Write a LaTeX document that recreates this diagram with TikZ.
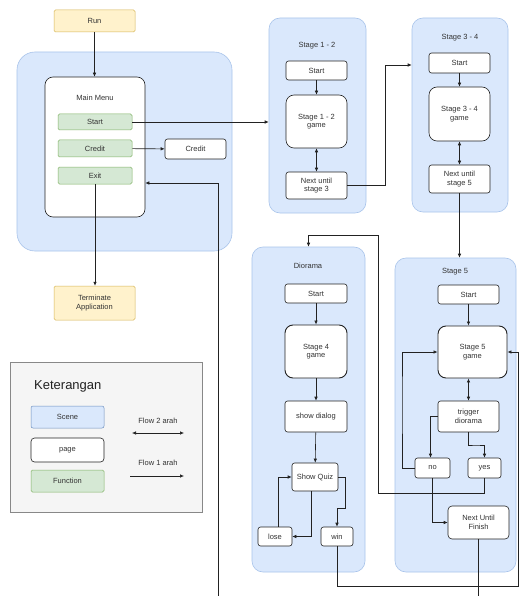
\documentclass[tikz,border=0pt]{standalone}
\usepackage{fontspec}
\setmainfont{Liberation Sans}
\usetikzlibrary{arrows.meta}
\definecolor{scenefill}{HTML}{DAE8FC}
\definecolor{sceneline}{HTML}{A9C4EB}
\definecolor{legline}{HTML}{6C8EBF}
\definecolor{funfill}{HTML}{D5E8D4}
\definecolor{funline}{HTML}{82B366}
\definecolor{yelfill}{HTML}{FFF2CC}
\definecolor{yelline}{HTML}{D6B656}
\definecolor{ink}{HTML}{222222}
\definecolor{txt}{HTML}{333333}
\definecolor{legfill}{HTML}{F5F5F5}
\definecolor{legdraw}{HTML}{888888}
\newcommand\mybox[7]{\node[#1, minimum width={(#5)-(#3)}, minimum height={(#6)-(#4)}] (#2) at ({((#3)+(#5))/2},{((#4)+(#6))/2}) {#7};}
\begin{document}
\begin{tikzpicture}[x=1pt,y=-1pt,
 font=\fontsize{7.5}{8.5}\selectfont,
 base/.style={inner sep=0pt, align=center, text=txt},
 scene/.style={base, fill=scenefill, draw=sceneline, rounded corners=11pt, line width=0.6pt},
 page/.style={base, fill=white, draw=ink, rounded corners=2.5pt, line width=0.6pt},
 gamebox/.style={page, rounded corners=8pt},
 fun/.style={base, fill=funfill, draw=funline, rounded corners=1.5pt, line width=0.5pt},
 yel/.style={base, fill=yelfill, draw=yelline, rounded corners=1.5pt, line width=0.5pt},
 arr/.style={draw=ink, line width=0.6pt, -{Latex[length=4pt,width=3.5pt]}},
 darr/.style={draw=ink, line width=0.6pt, {Latex[length=4pt,width=3.5pt]}-{Latex[length=4pt,width=3.5pt]}},
 lbl/.style={base}
]
\useasboundingbox[fill=white] (0,0) rectangle (519,596);

% scenes
\mybox{scene, rounded corners=18pt}{mmscene}{17}{52}{232}{251}{}
\mybox{scene}{s12}{269}{18}{366}{213}{}
\mybox{scene}{s34}{412}{18}{508}{212}{}
\mybox{scene}{dio}{252}{247}{365}{572}{}
\mybox{scene}{s5}{395}{258}{516}{572}{}

% main menu
\mybox{yel}{run}{54}{10}{135}{32}{Run}
\mybox{page, rounded corners=8pt}{mm}{45}{77}{145}{217}{}
\node[lbl] (mmlabel) at (95,98) {Main Menu};
\mybox{fun}{mstart}{58}{114}{132}{130}{Start}
\mybox{fun}{mcredit}{58}{140}{132}{157}{Credit}
\mybox{fun}{mexit}{58}{167}{132}{184}{Exit}
\mybox{page}{credit}{165}{139}{226}{159}{Credit}
\mybox{yel}{termapp}{54}{286}{135}{320}{Terminate\\Application}

% stage 1-2
\node[lbl] (s12label) at (317,46) {Stage 1 - 2};
\mybox{page}{s12start}{286}{61}{347}{80}{Start}
\mybox{gamebox}{s12game}{286}{95}{347}{148}{Stage 1 - 2\\game}
\mybox{page}{s12next}{286}{172}{347}{199}{Next until\\stage 3}

% stage 3-4
\node[lbl] (s34label) at (460,38) {Stage 3 - 4};
\mybox{page}{s34start}{429}{53}{490}{73}{Start}
\mybox{gamebox}{s34game}{429}{87}{490}{141}{Stage 3 - 4\\game}
\mybox{page}{s34next}{429}{165}{490}{193}{Next until\\stage 5}

% diorama
\node[lbl] (diolabel) at (308,266) {Diorama};
\mybox{page}{dstart}{285}{284}{347}{303}{Start}
\mybox{gamebox, line width=0.9pt}{dgame}{285}{325}{347}{378}{Stage 4\\game}
\mybox{page}{ddialog}{285}{401}{347}{432}{show dialog}
\mybox{page}{dquiz}{292}{463}{338}{491}{Show Quiz}
\mybox{page}{dlose}{258}{527}{292}{546}{lose}
\mybox{page}{dwin}{321}{527}{353}{546}{win}

% stage 5
\node[lbl] (s5label) at (455,272) {Stage 5};
\mybox{page}{s5start}{438}{285}{499}{304}{Start}
\mybox{gamebox, line width=0.9pt}{s5game}{438}{326}{507}{378}{Stage 5\\game}
\mybox{page}{trig}{438}{401}{499}{432}{trigger\\diorama}
\mybox{page}{no}{415}{458}{450}{478}{no}
\mybox{page}{yes}{468}{458}{501}{478}{yes}
\mybox{page, rounded corners=4pt}{nuf}{448}{506}{509}{539}{Next Until\\Finish}

% legend
\mybox{base, fill=legfill, draw=legdraw, line width=0.6pt}{legend}{10}{362}{202}{512}{}
\node[lbl, anchor=west, font=\fontsize{13}{15}\selectfont, text=ink] (legtitle) at (34,386) {Keterangan};
\mybox{base, fill=scenefill, draw=legline, rounded corners=2pt, line width=0.5pt}{lscene}{31}{406}{104}{428}{Scene}
\mybox{page, rounded corners=3.5pt}{lpage}{31}{438}{104}{462}{page}
\mybox{fun}{lfun}{31}{470}{104}{492}{Function}
\node[lbl] (flow2) at (158,421) {Flow 2 arah};
\node[lbl] (flow1) at (158,463) {Flow 1 arah};
\coordinate (f2a) at (132,433);
\coordinate (f2b) at (184,433);
\coordinate (f1a) at (130,476);
\coordinate (f1b) at (184,476);
\draw[darr] (f2a) -- (f2b);
\draw[arr] (f1a) -- (f1b);

% connectors main menu
\draw[arr] (run.south) -- (run.south |- mm.north);
\draw[arr] (mstart.east) -- (mstart.east -| s12.west);
\draw[arr] (mcredit) -- (credit);
\draw[arr] (mexit.south) -- (mexit.south |- termapp.north);

% stage 1-2 / 3-4
\draw[arr] (s12start) -- (s12game);
\draw[darr] (s12game) -- (s12next);
\coordinate (k1) at (385,65);
\draw[arr] (s12next.east) -| (k1) -- (k1 -| s34.west);
\draw[arr] (s34start) -- (s34game);
\draw[darr] (s34game) -- (s34next);
\draw[arr] (s34next.south) -- (s34next.south |- s5.north);

% diorama
\draw[arr] (dstart) -- (dgame);
\draw[arr] (dgame) -- (ddialog);
\draw[arr] (ddialog) -- (dquiz);
\draw[arr] ([xshift=-4pt]dquiz.south) |- (dlose.east);
\coordinate (k2) at (278,480);
\draw[arr] (k2 |- dlose.north) |- (dquiz.west);
\coordinate (k3) at (345,508);
\draw[arr] (dquiz.east) -| (k3) -| (dwin.north);
\coordinate (k4) at (518,586);
\draw[arr] (dwin.south) |- (k4) |- (s5game.east);

% stage 5
\draw[arr] (s5start.south) -- (s5start.south |- s5game.north);
\draw[darr] (trig.north |- s5game.south) -- (trig.north);
\draw[arr] (trig.west) -| ([xshift=-2pt]no.north);
\coordinate (k5) at (476,445);
\draw[arr] (trig.south) |- (k5) -| (yes.north);
\coordinate (k6) at (402,400);
\draw[arr] (no.west) -| (k6) |- (s5game.west);
\draw[arr] (no.south) |- (nuf.west);
\coordinate (k7) at (378,493);
\coordinate (k8) at (378,235);
\draw[arr] (yes.south) |- (k7) -- (k8) -| (dio.north);
\coordinate (k9) at (218,606);
\coordinate (k10) at (218,183);
\draw[arr] (nuf.south) |- (k9) -- (k10) -- (k10 -| mm.east);
\end{tikzpicture}
\end{document}
